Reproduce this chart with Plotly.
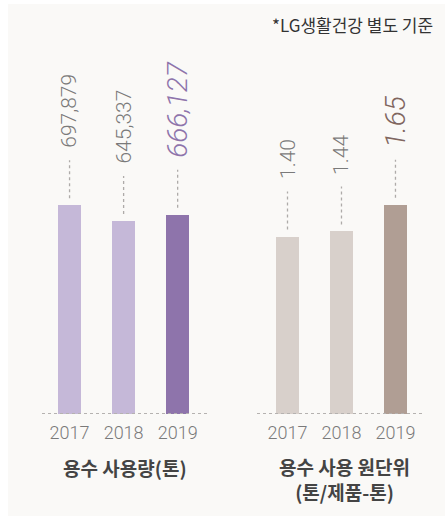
import plotly.graph_objects as go

# Data
years = ["2017", "2018", "2019"]
water_use = [697879, 645337, 666127]          # 용수 사용량 (톤)
water_intensity = [1.40, 1.44, 1.65]          # 용수 사용 원단위 (톤/제품-톤)
water_use_labels = ["697,879", "645,337", "666,127"]
intensity_labels = ["1.40", "1.44", "1.65"]

use_colors = ["#c5b8d8", "#c5b8d8", "#8e74ab"]
intensity_colors = ["#d8d0cb", "#d8d0cb", "#b09e94"]

W, H = 445, 516
NUM_FONT = "Roboto"
KR_FONT = "Noto Sans CJK KR"

fig = go.Figure()

fig.add_trace(go.Bar(x=years, y=water_use, marker=dict(color=use_colors, line=dict(width=0)),
                     width=0.426, xaxis="x", yaxis="y", hoverinfo="skip"))
fig.add_trace(go.Bar(x=years, y=water_intensity, marker=dict(color=intensity_colors, line=dict(width=0)),
                     width=0.426, xaxis="x2", yaxis="y2", hoverinfo="skip"))

shapes = [
    # panel background
    dict(type="rect", xref="paper", yref="paper", x0=8 / W, x1=1, y0=0, y1=1 - 4 / H,
         fillcolor="#faf9f7", line=dict(width=0), layer="below"),
]
annotations = []

def add_series(xname, yname, values, labels, hi_color, hi_size, base_size):
    # dotted baseline
    shapes.append(dict(type="line", xref=f"{xname} domain", yref=yname, x0=0, x1=1, y0=0, y1=0,
                       line=dict(color="#b5b2b0", width=2, dash="dot"), layer="above"))
    for i, (v, lab) in enumerate(zip(values, labels)):
        # category index i positions marks on the category axis
        shapes.append(dict(type="line", xref=xname, yref=yname, x0=i, x1=i,
                           ysizemode="pixel", yanchor=v, y0=7, y1=45,
                           line=dict(color="#aeaba9", width=1.3, dash="dot")))
        last = i == len(values) - 1
        annotations.append(dict(
            xref=xname, yref=yname, x=i, y=v, text=lab, showarrow=False,
            textangle=-90, xanchor="center", yanchor="bottom", yshift=55,
            font=dict(family=NUM_FONT, size=hi_size if last else base_size,
                      color=hi_color if last else "#7a7a7a",
                      style="italic" if last else "normal", weight=300)))

add_series("x", "y", water_use, water_use_labels, "#8e74ab", 28, 21)
add_series("x2", "y2", water_intensity, intensity_labels, "#80665f", 28, 21)

title_font = dict(family=KR_FONT, size=19, color="#444444")
annotations += [
    dict(xref="paper", yref="paper", x=435 / W, y=1 - 25 / H, text="*LG생활건강 별도 기준",
         showarrow=False, xanchor="right", yanchor="middle",
         font=dict(family=KR_FONT, size=17, color="#333333")),
    dict(xref="paper", yref="paper", x=125 / W, y=1 - 467 / H, text="<b>용수 사용량(톤)</b>",
         showarrow=False, xanchor="center", yanchor="middle", font=title_font),
    dict(xref="paper", yref="paper", x=344 / W, y=1 - 479 / H,
         text="<b>용수 사용 원단위<br>(톤/제품-톤)</b>",
         showarrow=False, xanchor="center", yanchor="middle", font=title_font),
]

ydom = [(H - 414) / H, (H - 40) / H]
tickfont = dict(family=NUM_FONT, size=18, color="#7a7a7a", weight=300)

fig.update_layout(
    width=W, height=H, margin=dict(l=0, r=0, t=0, b=0),
    paper_bgcolor="#ffffff", plot_bgcolor="rgba(0,0,0,0)",
    showlegend=False, bargap=0,
    xaxis=dict(domain=[42 / W, 209 / W], type="category", range=[-0.51, 2.58],
               showgrid=False, showline=False, zeroline=False, ticks="", tickfont=tickfont,
               ticklabelstandoff=6),
    xaxis2=dict(domain=[257 / W, 423 / W], type="category", range=[-0.565, 2.51],
                showgrid=False, showline=False, zeroline=False, ticks="", tickfont=tickfont,
                ticklabelstandoff=6, anchor="y2"),
    yaxis=dict(domain=ydom, range=[0, 1250000], visible=False),
    yaxis2=dict(domain=ydom, range=[0, 2.95], visible=False, anchor="x2"),
    shapes=shapes, annotations=annotations,
)

fig.write_html("out.html")
